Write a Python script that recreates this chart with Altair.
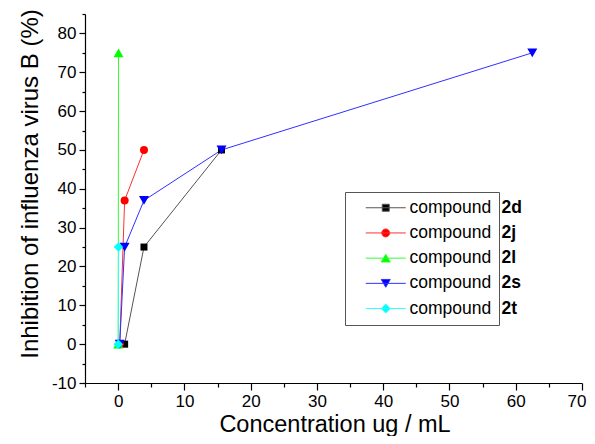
import altair as alt
import pandas as pd

FONT = "Liberation Sans"

series_names = ["2d", "2j", "2l", "2s", "2t"]
x_2d = [0.98, 3.9, 15.6]
y_2d = [0, 25, 50]
x_2j = [0.24, 0.98, 3.9]
y_2j = [0, 37, 50]
x_2l = [0.015, 0.06]
y_2l = [0, 75]
x_2s = [0.24, 0.98, 3.9, 15.6, 62.5]
y_2s = [0, 25, 37, 50, 75]
x_2t = [0.015, 0.06]
y_2t = [0, 25]

xs = [x_2d, x_2j, x_2l, x_2s, x_2t]
ys = [y_2d, y_2j, y_2l, y_2s, y_2t]

marker_colors = ["#000000", "#ff0000", "#00ff00", "#0000ff", "#00ffff"]
line_colors = ["#555555", "#ff3030", "#30ff30", "#3030ff", "#30ffff"]
shapes = ["square", "circle", "triangle-up", "triangle-down", "diamond"]
marker_sizes = [49, 64, 100, 100, 90]

rows = []
for name, xv, yv in zip(series_names, xs, ys):
    for a, b in zip(xv, yv):
        rows.append({"series": name, "suffix": name, "key": name, "x": a, "y": b})
df = pd.DataFrame(rows)

# legend symbol paths (line through marker), 5 px per unit at symbolSize 100
c = 5.0
def r2(v):
    return round(v, 2)
line_part = f"M{r2(c-4)},0H{r2(c+4)}"
marker_paths = [
    f"M{r2(c-0.7)},-0.7H{r2(c+0.7)}V0.7H{r2(c-0.7)}Z",
    f"M{r2(c-0.8)},0A0.8,0.8 0 1,0 {r2(c+0.8)},0A0.8,0.8 0 1,0 {r2(c-0.8)},0Z",
    f"M{c},-0.78L{r2(c+0.9)},0.78L{r2(c-0.9)},0.78Z",
    f"M{c},0.78L{r2(c+0.9)},-0.78L{r2(c-0.9)},-0.78Z",
    f"M{r2(c-0.9)},0L{c},-0.9L{r2(c+0.9)},0L{c},0.9Z",
]
legend_paths = [line_part + p for p in marker_paths]

major_test = "datum.value % 10 === 0"

xscale = alt.Scale(domain=[-5, 70], nice=False, zero=False)
yscale = alt.Scale(domain=[-10, 85], nice=False, zero=False)

x_axis = alt.Axis(
    values=list(range(-5, 71, 5)),
    labelExpr=f"{major_test} ? '' + datum.value : ''",
    grid=False,
    domainColor="black", domainWidth=1.2,
    tickColor="black", tickWidth=1.2,
    tickSize={"condition": {"test": major_test, "value": 7}, "value": 4},
    labelFont=FONT, labelFontSize=17, labelColor="black", labelPadding=3,
    labelFlush=True, labelFlushOffset=4, labelOverlap=False,
    title="Concentration ug / mL",
    titleFont=FONT, titleFontSize=23.5, titleFontWeight="normal", titleColor="black",
    titleX=249.5, titleY=48, titleBaseline="alphabetic", titleAlign="center",
)
y_axis = alt.Axis(
    values=list(range(-10, 86, 5)),
    labelExpr=f"{major_test} ? '' + datum.value : ''",
    grid=False,
    domainColor="black", domainWidth=1.2,
    tickColor="black", tickWidth=1.2,
    tickSize={"condition": {"test": major_test, "value": 6}, "value": 3},
    labelFont=FONT, labelFontSize=17, labelColor="black", labelPadding=3,
    labelFlush=False, labelOverlap=False,
    title="Inhibition of influenza virus B (%)",
    titleFont=FONT, titleFontSize=24, titleFontWeight="normal", titleColor="black",
    titleX=-48, titleY=169.5, titleAngle=-90, titleBaseline="alphabetic", titleAlign="center",
)

legend1 = alt.Legend(
    title=None, orient="none", legendX=260, legendY=178,
    padding=7, rowPadding=6.2,
    strokeColor="#555555", fillColor="white",
    labelFont=FONT, labelFontSize=17.5, labelColor="black", labelOffset=40,
    labelExpr="'compound" + "\u00a0" * 6 + "'",
    symbolSize=100, symbolStrokeWidth=1, symbolOpacity=1,
)
legend2 = alt.Legend(
    title=None, orient="none", legendX=399, legendY=185,
    padding=0, rowPadding=6.2,
    labelFont=FONT, labelFontSize=17.5, labelFontWeight="bold", labelColor="black",
    labelOffset=0, symbolSize=100, symbolOpacity=0, symbolStrokeWidth=0,
)

X = alt.X("x:Q", scale=xscale, axis=x_axis)
Y = alt.Y("y:Q", scale=yscale, axis=y_axis)

lines = alt.Chart(df).mark_line(strokeWidth=1).encode(
    x=X, y=Y,
    stroke=alt.Stroke("suffix:N", scale=alt.Scale(range=line_colors), legend=legend2),
    order="x:Q",
)

point_layers = []
for name, s in zip(series_names, marker_sizes):
    point_layers.append(
        alt.Chart(df).transform_filter(alt.datum.series == name)
        .mark_point(filled=True, size=s, opacity=1, strokeWidth=0)
        .encode(
            x=X, y=Y,
            fill=alt.Fill("series:N", scale=alt.Scale(domain=series_names, range=marker_colors), legend=None),
            shape=alt.Shape("series:N", scale=alt.Scale(domain=series_names, range=shapes), legend=None),
        )
    )

legend_layer = alt.Chart(df).transform_filter("false").mark_point(
    filled=True, opacity=1, strokeWidth=1, size=100
).encode(
    x=X, y=Y,
    fill=alt.Fill("key:N", scale=alt.Scale(domain=series_names, range=marker_colors), legend=legend1),
    shape=alt.Shape("key:N", scale=alt.Scale(domain=series_names, range=legend_paths), legend=legend1),
    stroke=alt.Stroke("key:N", scale=alt.Scale(domain=series_names, range=line_colors), legend=legend1),
)

chart = alt.layer(lines, *point_layers, legend_layer).resolve_scale(
    fill="independent", shape="independent", stroke="independent"
).properties(
    width=497, height=369,
    padding={"left": 77, "top": 6, "right": 5, "bottom": 53},
    autosize=alt.AutoSizeParams(type="none"),
    background="white",
).configure_view(stroke=None)

chart.save("out.html", embed_options={"renderer": "svg", "actions": False})
